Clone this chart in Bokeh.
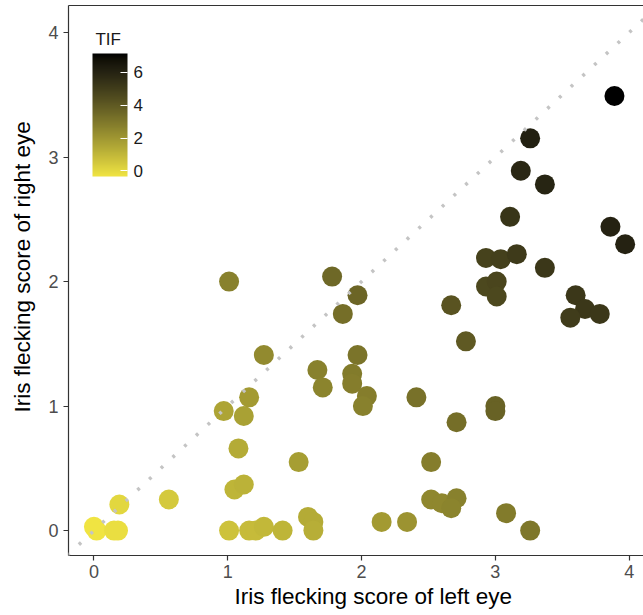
import numpy as np
from bokeh.plotting import figure
from bokeh.models import (ColumnDataSource, LinearColorMapper, ColorBar, FixedTicker,
                          Range1d, Slope, LinearAxis, Title, Label)
from bokeh.embed import file_html
from bokeh.resources import INLINE

# ---- data ----
left_eye = [0.00, 0.02, 0.15, 0.18, 0.19, 0.56, 1.01, 1.16, 1.21, 1.27, 1.41, 1.60, 1.64, 1.64,
            1.05, 1.12, 1.08, 1.53, 0.97, 1.12, 1.16, 1.27, 1.01, 1.67, 1.71, 1.93, 1.93, 1.97,
            2.04, 2.01, 1.78, 1.97, 1.86, 2.15, 2.34, 2.52, 2.60, 2.71, 2.67, 2.52, 2.71, 2.41,
            3.00, 3.00, 3.08, 3.26, 2.78, 2.67, 2.93, 3.04, 3.16, 3.37, 2.93, 3.01, 3.01, 3.60,
            3.67, 3.56, 3.78, 3.89, 3.26, 3.19, 3.37, 3.11, 3.86, 3.97]
right_eye = [0.03, 0.00, 0.00, 0.00, 0.21, 0.25, 0.00, 0.00, 0.00, 0.03, 0.00, 0.11, 0.07, 0.00,
             0.33, 0.37, 0.66, 0.55, 0.96, 0.92, 1.07, 1.41, 2.00, 1.29, 1.15, 1.26, 1.18, 1.41,
             1.08, 1.00, 2.04, 1.89, 1.74, 0.07, 0.07, 0.25, 0.22, 0.26, 0.18, 0.55, 0.87, 1.07,
             1.00, 0.96, 0.14, 0.00, 1.52, 1.81, 2.19, 2.18, 2.22, 2.11, 1.96, 2.00, 1.88, 1.89,
             1.78, 1.71, 1.74, 3.49, 3.15, 2.89, 2.78, 2.52, 2.44, 2.30]
tif = [-0.35, -0.35, -0.15, -0.15, 0.06, 0.46, 0.66, 0.87, 0.87, 0.97, 1.07, 1.38, 1.38, 1.27,
       1.07, 1.17, 1.38, 1.78, 1.58, 1.68, 1.88, 2.39, 2.69, 2.69, 2.59, 2.90, 2.80, 3.10,
       2.80, 2.69, 3.51, 3.61, 3.30, 1.88, 2.09, 2.49, 2.49, 2.69, 2.59, 2.80, 3.30, 3.20,
       3.71, 3.71, 2.90, 3.00, 4.01, 4.22, 4.83, 4.93, 5.13, 5.23, 4.62, 4.72, 4.62, 5.23,
       5.23, 5.03, 5.23, 7.16, 6.15, 5.84, 5.94, 5.33, 6.04, 6.04]
axis_ticks = [0, 1, 2, 3, 4]
tif_ticks = [0, 2, 4, 6]
x_title = "Iris flecking score of left eye"
y_title = "Iris flecking score of right eye"
legend_title = "TIF"

LOW_COLOR = "#F0E442"
HIGH_COLOR = "#000000"
FONT = "Liberation Sans"


# ---- Lab-space gradient (like ggplot's scale_colour_gradient) ----
_M = np.array([[0.4124, 0.3576, 0.1805], [0.2126, 0.7152, 0.0722], [0.0193, 0.1192, 0.9505]])
_W = np.array([0.95047, 1.0, 1.08883])


def _hex_to_lab(h):
    rgb = np.array([int(h[i:i + 2], 16) for i in (1, 3, 5)]) / 255.0
    lin = np.where(rgb <= 0.04045, rgb / 12.92, ((rgb + 0.055) / 1.055) ** 2.4)
    xyz = _M @ lin / _W
    d = 6 / 29
    f = np.where(xyz > d ** 3, np.cbrt(xyz), xyz / (3 * d * d) + 4 / 29)
    return np.array([116 * f[1] - 16, 500 * (f[0] - f[1]), 200 * (f[1] - f[2])])


def _lab_to_hex(lab):
    L, a, b = lab
    fy = (L + 16) / 116
    f = np.array([fy + a / 500, fy, fy - b / 200])
    d = 6 / 29
    xyz = np.where(f > d, f ** 3, 3 * d * d * (f - 4 / 29)) * _W
    lin = np.clip(np.linalg.inv(_M) @ xyz, 0, 1)
    rgb = np.where(lin <= 0.0031308, 12.92 * lin, 1.055 * lin ** (1 / 2.4) - 0.055)
    r, g, bb = (np.clip(np.round(rgb * 255), 0, 255)).astype(int)
    return "#%02x%02x%02x" % (r, g, bb)


lab_lo, lab_hi = _hex_to_lab(LOW_COLOR), _hex_to_lab(HIGH_COLOR)
palette = [_lab_to_hex(lab_lo + (lab_hi - lab_lo) * t) for t in np.linspace(0, 1, 256)]

source = ColumnDataSource(dict(x=left_eye, y=right_eye, tif=tif))
mapper = LinearColorMapper(palette=palette, low=min(tif), high=max(tif))

p = figure(width=643, height=615, output_backend="svg", toolbar_location=None,
           x_range=Range1d(-0.19, 4.107), y_range=Range1d(-0.2, 4.217),
           min_border_left=68, min_border_right=0, min_border_top=5, min_border_bottom=60)
p.background_fill_color = "white"
p.border_fill_color = "white"
p.outline_line_color = None
p.xgrid.visible = False
p.ygrid.visible = False

p.scatter(x="x", y="y", source=source, size=20,
          fill_color={"field": "tif", "transform": mapper}, line_color=None)

p.add_layout(Slope(gradient=1, y_intercept=0, line_color="#c4c4c4", line_width=3.5,
                   line_dash="3 13"))

for ax in (p.xaxis[0], p.yaxis[0]):
    ax.ticker = FixedTicker(ticks=axis_ticks)
    ax.axis_line_color = "#333333"
    ax.axis_line_width = 1.2
    ax.major_tick_line_color = "#333333"
    ax.major_tick_line_width = 1.2
    ax.major_tick_out = 5
    ax.major_tick_in = 0
    ax.minor_tick_line_color = None
    ax.major_label_text_font = FONT
    ax.major_label_text_font_size = "18px"
    ax.major_label_text_color = "#4d4d4d"
p.xaxis[0].major_label_standoff = 4
p.yaxis[0].major_label_standoff = 5

top = LinearAxis(ticker=FixedTicker(ticks=[]), axis_line_color="#333333", axis_line_width=1.2,
                 major_tick_out=0, major_tick_in=0, minor_tick_out=0, minor_tick_in=0,
                 major_label_text_font_size="0px", axis_label=None)
p.add_layout(top, "above")

p.add_layout(Title(text=x_title, align="left", offset=166, standoff=2,
                   text_font=FONT, text_font_size="22.5px", text_font_style="normal",
                   text_color="black"), "below")
p.add_layout(Title(text=y_title, align="left", offset=143, standoff=17, vertical_align="top",
                   text_font=FONT, text_font_size="22.5px", text_font_style="normal",
                   text_color="black"), "left")

cb = ColorBar(color_mapper=mapper, ticker=FixedTicker(ticks=tif_ticks), width=35, height=123,
              title=None,
              major_label_text_font=FONT, major_label_text_font_size="17px",
              major_label_text_color="#1a1a1a", label_standoff=6,
              major_tick_line_color="white", major_tick_line_width=1.2,
              major_tick_in=7, major_tick_out=0, minor_tick_line_color=None,
              bar_line_color=None, border_line_color=None, background_fill_alpha=0,
              padding=0, margin=0, location=(24, 379))
p.add_layout(cb)

p.add_layout(Label(x=0.011, y=3.945, text=legend_title, text_font=FONT,
                   text_font_size="17px", text_color="#1a1a1a",
                   text_baseline="alphabetic", text_align="left"))

open("out.html", "w").write(file_html(p, INLINE))
